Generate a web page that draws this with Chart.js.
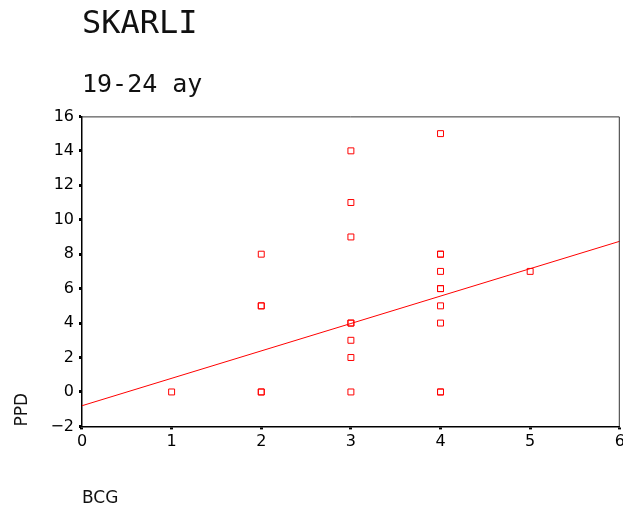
<!DOCTYPE html>
<html>
<head>
<meta charset="utf-8">
<script src="https://cdn.jsdelivr.net/npm/chart.js@4.4.1/dist/chart.umd.min.js"></script>
<style>
  html, body { margin: 0; padding: 0; background: #fff; overflow: hidden; }
  #wrap { width: 623px; height: 510px; overflow: hidden; }
</style>
</head>
<body>
<div id="wrap"><canvas id="canvas" width="625" height="510"></canvas></div>
<script>
// values (duplicates drawn twice, like the darker squares)
const bcg = [1, 2, 2, 2, 2, 2, 3, 3, 3, 3, 3, 3, 3, 3, 4, 4, 4, 4, 4, 4, 4, 4, 4, 4, 5]
const ppd = [0, 0, 0, 5, 5, 8, 0, 2, 3, 4, 4, 9, 11, 14, 0, 0, 4, 5, 6, 6, 7, 8, 8, 15, 7]

// fitted line ends
const fitX = [0, 6]
const fitY = [-0.8, 8.75]

const xTicks = [0, 1, 2, 3, 4, 5, 6]
const yTicks = [-2, 0, 2, 4, 6, 8, 10, 12, 14, 16]

const points = bcg.map((v, i) => ({x: v, y: ppd[i]}))
const fitLine = fitX.map((v, i) => ({x: v, y: fitY[i]}))

// box round the plot area (top and right edges)
const frame = {
    id: 'frame',
    afterDraw(chart) {
        const {ctx, chartArea: a} = chart
        ctx.save()
        ctx.strokeStyle = '#333'
        ctx.lineWidth = 1
        ctx.beginPath()
        ctx.moveTo(a.left, a.top + 0.5)
        ctx.lineTo(a.right - 0.5, a.top + 0.5)
        ctx.lineTo(a.right - 0.5, a.bottom)
        ctx.stroke()
        ctx.restore()
    }
}

const tickFont = {family: 'DejaVu Sans', size: 16}

new Chart(document.querySelector('#canvas'), {
    type: 'scatter',
    data: {
        datasets: [{
            data: points,
            pointStyle: 'rect',
            pointRadius: 4.2,
            pointBorderWidth: 1,
            pointBorderColor: 'rgb(255,0,0)',
            pointBackgroundColor: 'rgba(0,0,0,0)',
            pointHoverRadius: 4.2
        }, {
            type: 'line',
            data: fitLine,
            borderColor: 'rgb(255,0,0)',
            borderWidth: 1,
            pointRadius: 0,
            fill: false
        }]
    },
    plugins: [frame],
    options: {
        responsive: false,
        animation: false,
        layout: {padding: {left: 0, right: 0, top: 0, bottom: 0}},
        scales: {
            x: {
                type: 'linear',
                min: 0,
                max: 6,
                afterBuildTicks: (s) => { s.ticks = xTicks.map(v => ({value: v})) },
                afterFit: (s) => { s.paddingRight = 0 },  // let the plot run close to the edge
                ticks: {color: '#000', font: tickFont, padding: 3},
                grid: {drawOnChartArea: false, drawTicks: true, tickLength: 3, tickWidth: 3, tickColor: '#000'},
                border: {display: true, color: '#000', width: 1.5},
                title: {
                    display: true,
                    text: 'BCG',
                    align: 'start',
                    color: '#111',
                    font: {family: 'DejaVu Sans', size: 17},
                    padding: {top: 34, bottom: 1}
                }
            },
            y: {
                type: 'linear',
                min: -2,
                max: 16,
                afterBuildTicks: (s) => { s.ticks = yTicks.map(v => ({value: v})) },
                ticks: {
                    color: '#000',
                    font: tickFont,
                    padding: 5,
                    callback: function(value) {
                        return String(value).replace('-', '\u2212')
                    }
                },
                grid: {drawOnChartArea: false, drawTicks: true, tickLength: 3, tickWidth: 3, tickColor: '#000'},
                border: {display: true, color: '#000', width: 1.5},
                title: {
                    display: true,
                    text: 'PPD',
                    align: 'start',
                    color: '#111',
                    font: {family: 'DejaVu Sans', size: 17},
                    padding: {top: 12, bottom: 13}
                }
            }
        },
        plugins: {
            legend: {display: false},
            tooltip: {enabled: false},
            title: {
                display: true,
                text: 'SKARLI',
                align: 'start',
                fullSize: false,
                color: '#111',
                font: {family: 'DejaVu Sans Mono', size: 32, weight: 'normal'},
                padding: {top: 5, bottom: 0}
            },
            subtitle: {
                display: true,
                text: '19-24 ay',
                align: 'start',
                fullSize: false,
                color: '#111',
                font: {family: 'DejaVu Sans Mono', size: 25, weight: 'normal'},
                padding: {top: 27, bottom: 16}
            }
        }
    }
})
</script>
</body>
</html>
